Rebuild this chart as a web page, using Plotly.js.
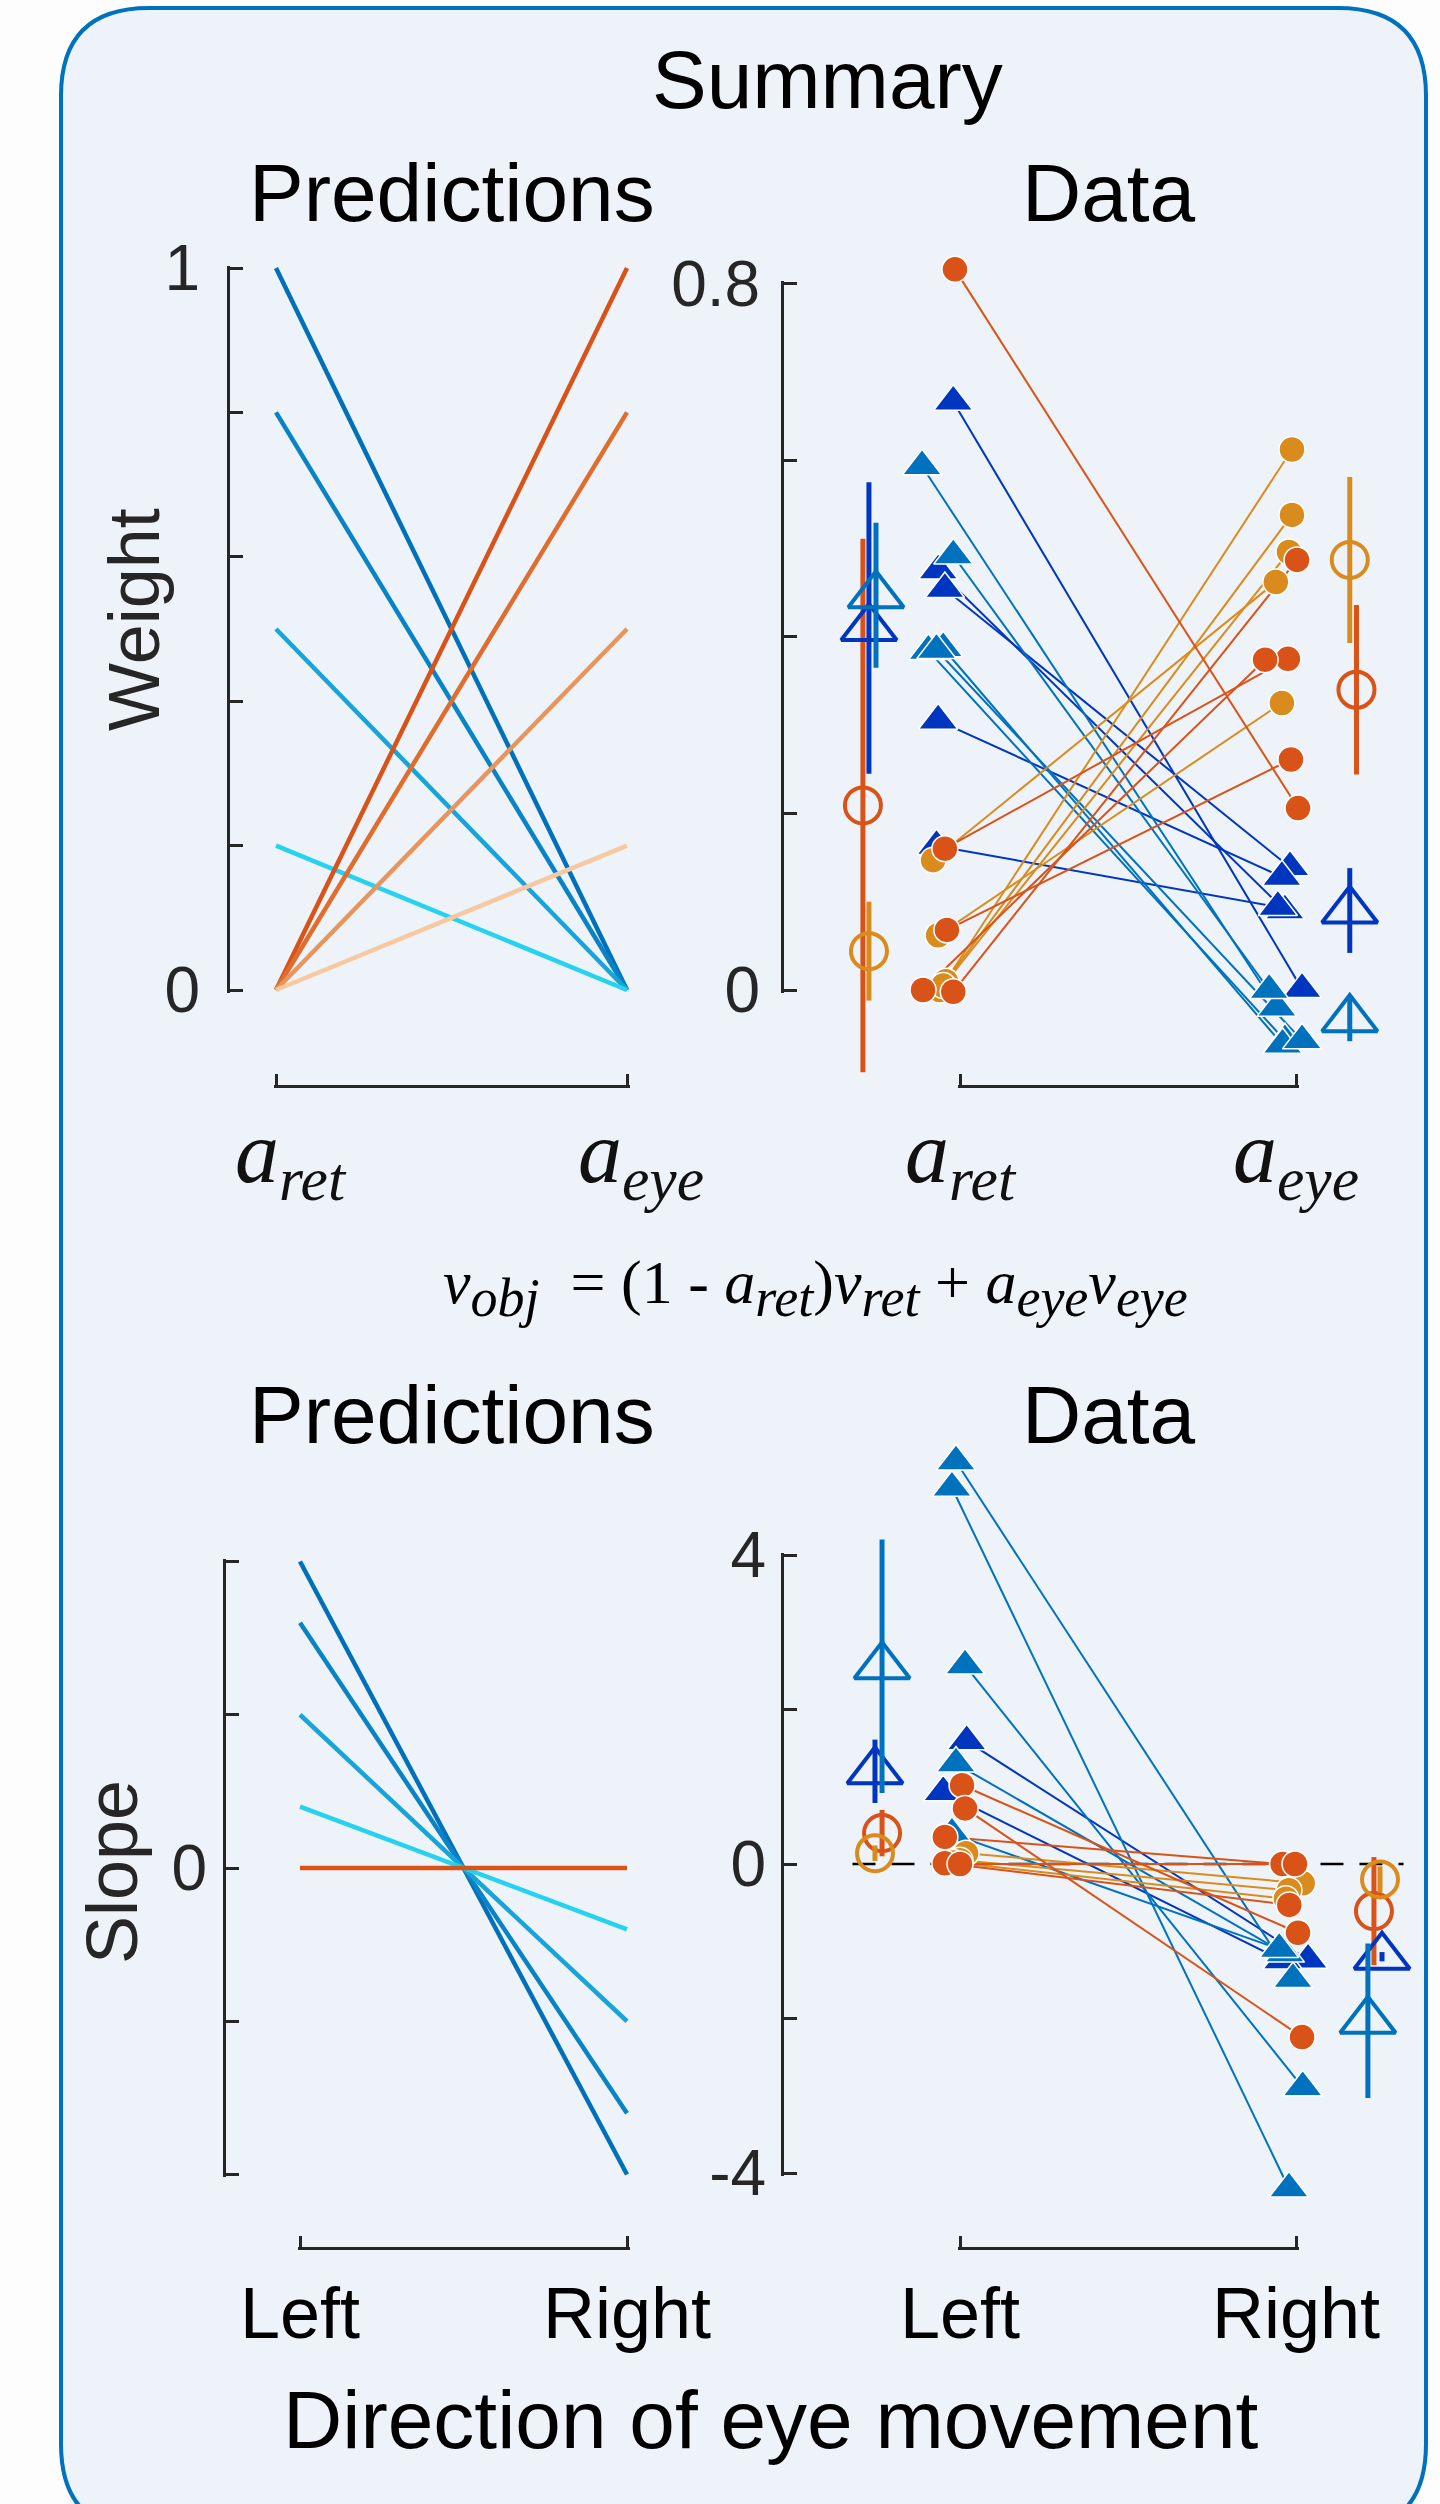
<!DOCTYPE html>
<html>
<head>
<meta charset="utf-8">
<script src="https://cdn.plot.ly/plotly-3.0.1.min.js"></script>
<style>
html,body{margin:0;padding:0;background:#fdfdfd;}
#chart{width:1440px;height:2504px;}
</style>
</head>
<body>
<div id="chart"></div>
<script>
// ================= DATA =================
const catPos = [0, 1];
const weightCats = ['<i>a</i><sub><i>ret</i></sub>', '<i>a</i><sub><i>eye</i></sub>'];
const directionCats = ['Left', 'Right'];

// y tick values / labels
const weightPredTicks = [0, 0.2, 0.4, 0.6, 0.8, 1];
const weightPredTickText = ['0', '', '', '', '', '1'];
const weightDataTicks = [0, 0.2, 0.4, 0.6, 0.8];
const weightDataTickText = ['0', '', '', '', '0.8'];
const slopePredTicks = [-2, -1, 0, 1, 2];
const slopePredTickText = ['', '', '0', '', ''];
const slopeDataTicks = [-4, -2, 0, 2, 4];
const slopeDataTickText = ['-4', '', '0', '', '4'];

// Predictions (weights)
const predBlueRet = [1, 0.8, 0.5, 0.2];
const predBlueEye = [0, 0, 0, 0];
const predOrangeRet = [0, 0, 0, 0];
const predOrangeEye = [1, 0.8, 0.5, 0.2];

// Predictions (slopes)
const predSlopeLeft = [2, 1.6, 1.0, 0.4, 0];
const predSlopeRight = [-2, -1.6, -1.0, -0.4, 0];

// Data (weights): per subject, a_ret value/x and a_eye value/x
const wOrangeRet = [0.816, 0.160, 0.068, 0.000, -0.002];
const wOrangeEye = [0.206, 0.375, 0.261, 0.374, 0.487];
const wOrangeRetX = [-0.015, -0.045, -0.039, -0.11, -0.02];
const wOrangeEyeX = [1.006, 0.976, 0.985, 0.908, 1.003];

const wGoldRet = [0.147, 0.062, 0.010, 0.000, 0.005];
const wGoldEye = [0.462, 0.325, 0.538, 0.612, 0.496];
const wGoldRetX = [-0.08, -0.065, -0.042, -0.06, -0.05];
const wGoldEyeX = [0.94, 0.958, 0.988, 0.988, 0.979];

const wDblueRet = [0.666, 0.475, 0.454, 0.305, 0.163];
const wDblueEye = [0.001, 0.090, 0.139, 0.128, 0.094];
const wDblueRetX = [-0.02, -0.065, -0.045, -0.065, -0.07];
const wDblueEyeX = [1.018, 0.967, 0.982, 0.958, 0.946];

const wLblueRet = [0.593, 0.492, 0.384, 0.387, 0.385];
const wLblueEye = [-0.020, 0.000, -0.057, -0.062, -0.057];
const wLblueRetX = [-0.113, -0.02, -0.094, -0.05, -0.07];
const wLblueEyeX = [0.943, 0.92, 0.967, 0.96, 1.018];

// Means (weights), order: orange, gold, dark blue, light blue
const wMeanRet = [0.209, 0.044, 0.410, 0.447];
const wMeanRetErr = [0.302, 0.056, 0.165, 0.082];
const wMeanRetX = [-0.289, -0.271, -0.271, -0.25];
const wMeanEye = [0.340, 0.487, 0.090, -0.033];
const wMeanEyeErr = [0.096, 0.094, 0.048, 0.025];
const wMeanEyeX = [1.18, 1.16, 1.16, 1.16];

// Data (slopes)
const sOrangeLeft = [1.02, 0.72, 0.35, 0.01, 0.00];
const sOrangeRight = [-0.89, -2.24, 0.00, -0.53, 0.00];
const sOrangeLeftX = [0.006, 0.015, -0.045, -0.045, 0.0];
const sOrangeRightX = [1.006, 1.018, 0.96, 0.98, 0.997];

const sGoldLeft = [0.14, 0.05, 0.02];
const sGoldRight = [-0.25, -0.34, -0.45];
const sGoldLeftX = [0.018, 0.0, -0.02];
const sGoldRightX = [1.02, 0.979, 0.97];

const sDblueLeft = [1.59, 0.93];
const sDblueRight = [-1.24, -1.25];
const sDblueLeftX = [0.02, -0.05];
const sDblueRightX = [1.036, 0.96];

const sLblueLeft = [5.21, 4.87, 2.57, 1.30, 0.39];
const sLblueRight = [-1.49, -4.20, -2.89, -1.16, -1.10];
const sLblueLeftX = [-0.012, -0.024, 0.015, -0.012, -0.024];
const sLblueRightX = [0.991, 0.979, 1.02, 0.967, 0.95];

// Means (slopes), order: orange, gold, dark blue, light blue
const sMeanLeft = [0.40, 0.14, 1.20, 2.56];
const sMeanLeftErr = [0.30, 0.10, 0.41, 1.64];
const sMeanLeftX = [-0.232, -0.253, -0.253, -0.232];
const sMeanRight = [-0.61, -0.20, -1.20, -2.03];
const sMeanRightErr = [0.70, 0.17, 0.06, 1.00];
const sMeanRightX = [1.232, 1.25, 1.256, 1.214];

// zero reference line (slope data)
const zeroRefX = [-0.32, 1.32];
const zeroRefY = 0;

// ================= STYLE / LAYOUT =================
const W = 1440, H = 2504;
const fx = p => p / W;
const fy = p => 1 - p / H;
const lin = (pa, va, pb, vb) => p => va + (p - pa) * (vb - va) / (pb - pa);
const pix = (pa, va, pb, vb) => v => pa + (v - va) * (pb - pa) / (vb - va);

const C = {orange: '#D95319', gold: '#D98B1D', dblue: '#0035C0', lblue: '#0072BD'};
const groupColors = [C.orange, C.gold, C.dblue, C.lblue];
const groupSymbols = ['circle-open', 'circle-open', 'triangle-up-open', 'triangle-up-open'];
const predBlueColors = ['#0070BA', '#0883C6', '#17A4D9', '#26D2EF'];
const predOrangeColors = ['#D95319', '#DF6D2D', '#E8955D', '#F7C9A0'];
const predSlopeColors = ['#0070BA', '#0883C6', '#17A4D9', '#26D2EF', '#D95319'];
const AX = '#262626';
const END = 2.5; // extra px so end ticks are drawn

const panels = {
  TL: {ids: ['x', 'y', 'x2', 'y2'], xa: [276, 627], ya: [990, 268], yv: [0, 1], axisX: 228, bracketY: 1086,
       dataX: [230, 680], dataY: [230, 1030], ticks: weightPredTicks, tickText: weightPredTickText,
       cats: weightCats, catFont: {family: 'Liberation Serif', size: 88, color: '#111'}, catStandoff: -12, catShift: 14, yStandoff: 14},
  TR: {ids: ['x3', 'y3', 'x4', 'y4'], xa: [960, 1296], ya: [990, 283.5], yv: [0, 0.8], axisX: 782, bracketY: 1086,
       dataX: [800, 1420], dataY: [240, 1120], ticks: weightDataTicks, tickText: weightDataTickText,
       cats: weightCats, catFont: {family: 'Liberation Serif', size: 88, color: '#111'}, catStandoff: -12, catShift: 0, yStandoff: 8},
  BL: {ids: ['x5', 'y5', 'x6', 'y6'], xa: [300, 627], ya: [1868, 1561.5], yv: [0, 2], axisX: 224, bracketY: 2248,
       dataX: [250, 680], dataY: [1500, 2240], ticks: slopePredTicks, tickText: slopePredTickText,
       cats: directionCats, catFont: {family: 'Liberation Sans', size: 72, color: '#000'}, catStandoff: 2, catShift: 0, yStandoff: 3},
  BR: {ids: ['x7', 'y7', 'x8', 'y8'], xa: [960, 1296], ya: [1864, 1555], yv: [0, 4], axisX: 782, bracketY: 2248,
       dataX: [800, 1420], dataY: [1420, 2240], ticks: slopeDataTicks, tickText: slopeDataTickText,
       cats: directionCats, catFont: {family: 'Liberation Sans', size: 72, color: '#000'}, catStandoff: 2, catShift: 0, yStandoff: 2}
};

const layout = {
  width: W, height: H,
  margin: {l: 0, r: 0, t: 0, b: 0, pad: 0},
  paper_bgcolor: '#fdfdfd',
  plot_bgcolor: 'rgba(0,0,0,0)',
  showlegend: false,
  hovermode: false,
  shapes: [],
  annotations: []
};

const traces = [];
function axName(id) { return (id[0] === 'x' ? 'xaxis' : 'yaxis') + id.slice(1); }

Object.values(panels).forEach(P => {
  const [xA, yA, xD, yD] = P.ids;
  const vx = lin(P.xa[0], 0, P.xa[1], 1);
  const vy = lin(P.ya[0], P.yv[0], P.ya[1], P.yv[1]);
  const py = pix(P.ya[0], P.yv[0], P.ya[1], P.yv[1]);
  const tmin = Math.min(...P.ticks), tmax = Math.max(...P.ticks);
  const yBot = py(tmin) + END, yTop = py(tmax) - END;
  // visible axis subplot
  layout[axName(xA)] = {
    domain: [fx(P.xa[0] - END), fx(P.xa[1] + END)], range: [vx(P.xa[0] - END), vx(P.xa[1] + END)],
    anchor: 'free', position: fy(P.bracketY),
    showline: true, linecolor: AX, linewidth: 3, ticks: 'inside', ticklen: 11, tickwidth: 3, tickcolor: AX,
    tickmode: 'array', tickvals: catPos, ticktext: P.cats, tickfont: P.catFont,
    ticklabelstandoff: P.catStandoff, ticklabelshift: P.catShift, showgrid: false, zeroline: false, fixedrange: true
  };
  layout[axName(yA)] = {
    domain: [fy(yBot), fy(yTop)], range: [vy(yBot), vy(yTop)], anchor: 'free', position: fx(P.axisX),
    showline: true, linecolor: AX, linewidth: 3, ticks: 'inside', ticklen: 13, tickwidth: 3, tickcolor: AX,
    tickmode: 'array', tickvals: P.ticks, ticktext: P.tickText,
    tickfont: {family: 'Liberation Sans', size: 64, color: AX},
    ticklabelstandoff: P.yStandoff, showgrid: false, zeroline: false, fixedrange: true
  };
  // hidden data subplot
  layout[axName(xD)] = {
    domain: [fx(P.dataX[0]), fx(P.dataX[1])], range: [vx(P.dataX[0]), vx(P.dataX[1])],
    anchor: yD, visible: false, fixedrange: true
  };
  layout[axName(yD)] = {
    domain: [fy(P.dataY[1]), fy(P.dataY[0])], range: [vy(P.dataY[1]), vy(P.dataY[0])],
    anchor: xD, visible: false, fixedrange: true
  };
  // invisible trace to register the axis subplot
  traces.push({type: 'scatter', mode: 'markers', x: catPos, y: catPos.map(() => tmin),
    xaxis: xA, yaxis: yA, marker: {opacity: 0}, hoverinfo: 'skip'});
});

// ---- Predictions: weights ----
predBlueRet.forEach((v, i) => traces.push({type: 'scatter', mode: 'lines', x: catPos, y: [predBlueRet[i], predBlueEye[i]],
  xaxis: 'x2', yaxis: 'y2', line: {color: predBlueColors[i], width: 4.5}, hoverinfo: 'skip'}));
predOrangeRet.forEach((v, i) => traces.push({type: 'scatter', mode: 'lines', x: catPos, y: [predOrangeRet[i], predOrangeEye[i]],
  xaxis: 'x2', yaxis: 'y2', line: {color: predOrangeColors[i], width: 4.5}, hoverinfo: 'skip'}));

// ---- Predictions: slopes ----
predSlopeLeft.forEach((v, i) => traces.push({type: 'scatter', mode: 'lines', x: catPos, y: [predSlopeLeft[i], predSlopeRight[i]],
  xaxis: 'x6', yaxis: 'y6', line: {color: predSlopeColors[i], width: 4.5}, hoverinfo: 'skip'}));

// ---- subject data helper ----
function subjectLines(xa, ya, lx, lv, rx, rv, color) {
  lv.forEach((v, i) => traces.push({type: 'scatter', mode: 'lines', x: [lx[i], rx[i]], y: [lv[i], rv[i]],
    xaxis: xa, yaxis: ya, line: {color: color, width: 2}, hoverinfo: 'skip'}));
}
function subjectMarkers(xa, ya, lx, lv, rx, rv, color, symbol) {
  traces.push({type: 'scatter', mode: 'markers', x: lx.concat(rx), y: lv.concat(rv), xaxis: xa, yaxis: ya,
    cliponaxis: false, hoverinfo: 'skip',
    marker: {color: color, symbol: symbol, size: symbol === 'circle' ? 26 : 34, line: {color: '#ffffff', width: 1.5}}});
}
function meanMarkers(xa, ya, lx, lv, le, rx, rv, re) {
  groupColors.forEach((col, g) => traces.push({type: 'scatter', mode: 'markers',
    x: [lx[g], rx[g]], y: [lv[g], rv[g]], xaxis: xa, yaxis: ya, cliponaxis: false, hoverinfo: 'skip',
    error_y: {type: 'data', array: [le[g], re[g]], visible: true, color: col, thickness: 5, width: 0},
    marker: {color: col, symbol: groupSymbols[g], size: groupSymbols[g] === 'circle-open' ? 36 : 48, line: {color: col, width: 4}}}));
}

// ---- Data: weights ----
subjectLines('x4', 'y4', wDblueRetX, wDblueRet, wDblueEyeX, wDblueEye, C.dblue);
subjectLines('x4', 'y4', wLblueRetX, wLblueRet, wLblueEyeX, wLblueEye, C.lblue);
subjectLines('x4', 'y4', wGoldRetX, wGoldRet, wGoldEyeX, wGoldEye, C.gold);
subjectLines('x4', 'y4', wOrangeRetX, wOrangeRet, wOrangeEyeX, wOrangeEye, C.orange);
subjectMarkers('x4', 'y4', wDblueRetX, wDblueRet, wDblueEyeX, wDblueEye, C.dblue, 'triangle-up');
subjectMarkers('x4', 'y4', wLblueRetX, wLblueRet, wLblueEyeX, wLblueEye, C.lblue, 'triangle-up');
subjectMarkers('x4', 'y4', wGoldRetX, wGoldRet, wGoldEyeX, wGoldEye, C.gold, 'circle');
subjectMarkers('x4', 'y4', wOrangeRetX, wOrangeRet, wOrangeEyeX, wOrangeEye, C.orange, 'circle');
meanMarkers('x4', 'y4', wMeanRetX, wMeanRet, wMeanRetErr, wMeanEyeX, wMeanEye, wMeanEyeErr);

// ---- Data: slopes ----
subjectLines('x8', 'y8', sDblueLeftX, sDblueLeft, sDblueRightX, sDblueRight, C.dblue);
subjectLines('x8', 'y8', sLblueLeftX, sLblueLeft, sLblueRightX, sLblueRight, C.lblue);
subjectLines('x8', 'y8', sGoldLeftX, sGoldLeft, sGoldRightX, sGoldRight, C.gold);
subjectLines('x8', 'y8', sOrangeLeftX, sOrangeLeft, sOrangeRightX, sOrangeRight, C.orange);
subjectMarkers('x8', 'y8', sDblueLeftX, sDblueLeft, sDblueRightX, sDblueRight, C.dblue, 'triangle-up');
subjectMarkers('x8', 'y8', sLblueLeftX, sLblueLeft, sLblueRightX, sLblueRight, C.lblue, 'triangle-up');
subjectMarkers('x8', 'y8', sGoldLeftX, sGoldLeft, sGoldRightX, sGoldRight, C.gold, 'circle');
subjectMarkers('x8', 'y8', sOrangeLeftX, sOrangeLeft, sOrangeRightX, sOrangeRight, C.orange, 'circle');
meanMarkers('x8', 'y8', sMeanLeftX, sMeanLeft, sMeanLeftErr, sMeanRightX, sMeanRight, sMeanRightErr);

// ---- background rounded box ----
(function () {
  const L = 61, R = 1426, T = 8, B = 2532, r = 88;
  const P = (x, y) => fx(x).toFixed(5) + ',' + fy(y).toFixed(5);
  const path = 'M' + P(L + r, T) + ' L' + P(R - r, T) + ' Q' + P(R, T) + ' ' + P(R, T + r) +
    ' L' + P(R, B - r) + ' Q' + P(R, B) + ' ' + P(R - r, B) +
    ' L' + P(L + r, B) + ' Q' + P(L, B) + ' ' + P(L, B - r) +
    ' L' + P(L, T + r) + ' Q' + P(L, T) + ' ' + P(L + r, T) + ' Z';
  layout.shapes.push({type: 'path', xref: 'paper', yref: 'paper', path: path, layer: 'below',
    fillcolor: '#EEF3FA', line: {color: '#0072BD', width: 4}});
})();
layout.shapes.push({type: 'line', xref: 'x8', yref: 'y8', x0: zeroRefX[0], x1: zeroRefX[1], y0: zeroRefY, y1: zeroRefY,
  layer: 'below', line: {color: '#000', width: 2.5, dash: '23px,16px'}});

// ---- text ----
const titleFont = {family: 'Liberation Sans', size: 82, color: '#000'};
function ann(text, xp, yp, font, extra) {
  layout.annotations.push(Object.assign({text: text, x: fx(xp), y: fy(yp), xref: 'paper', yref: 'paper',
    showarrow: false, xanchor: 'center', yanchor: 'middle', font: font}, extra || {}));
}
ann('Summary', 828, 80, titleFont);
ann('Predictions', 452, 192, titleFont);
ann('Data', 1109, 192, titleFont);
ann('Predictions', 452, 1414, titleFont);
ann('Data', 1109, 1414, titleFont);
ann('Direction of eye movement', 771, 2419, titleFont);
ann('Weight', 134, 620, {family: 'Liberation Sans', size: 72, color: AX}, {textangle: -90});
ann('Slope', 112, 1872, {family: 'Liberation Sans', size: 72, color: AX}, {textangle: -90});
const sb = t => '<sub><span style="font-size:54px"><i>' + t + '</i></span></sub>';
ann('<i>v</i>' + sb('obj') + '\u00A0\u00A0= (1 - <i>a</i>' + sb('ret') + ')<i>v</i>' + sb('ret') +
    ' + <i>a</i>' + sb('eye') + '<i>v</i>' + sb('eye'),
    815, 1288, {family: 'Liberation Serif', size: 62, color: '#000'});

Plotly.newPlot('chart', traces, layout, {staticPlot: true, displayModeBar: false});
</script>
</body>
</html>
